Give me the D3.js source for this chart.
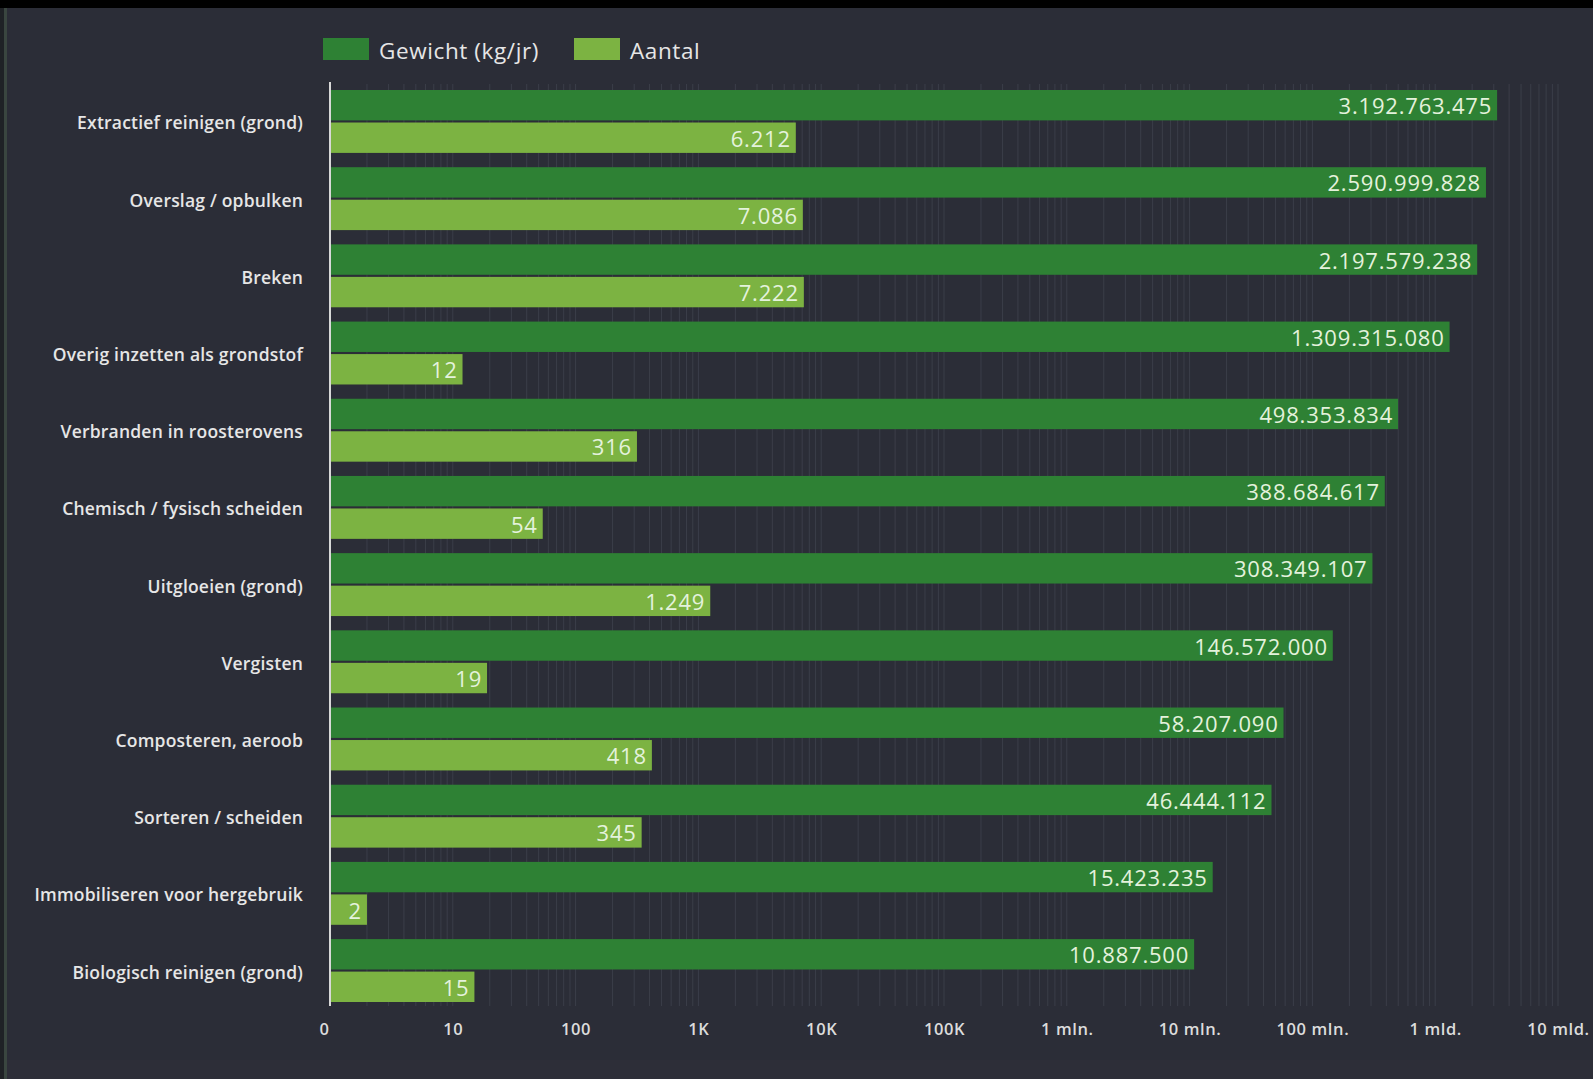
<!DOCTYPE html>
<html>
<head>
<meta charset="utf-8">
<script src="https://cdn.jsdelivr.net/npm/d3@7/dist/d3.min.js"></script>
<style>
  html, body { margin: 0; padding: 0; background: #000; }
  svg { display: block; }
</style>
</head>
<body>
<svg id="chart" width="1593" height="1079"></svg>
<script>
const categories = [
  "Extractief reinigen (grond)",
  "Overslag / opbulken",
  "Breken",
  "Overig inzetten als grondstof",
  "Verbranden in roosterovens",
  "Chemisch / fysisch scheiden",
  "Uitgloeien (grond)",
  "Vergisten",
  "Composteren, aeroob",
  "Sorteren / scheiden",
  "Immobiliseren voor hergebruik",
  "Biologisch reinigen (grond)"
];
const gewicht = [3192763475, 2590999828, 2197579238, 1309315080, 498353834, 388684617, 308349107, 146572000, 58207090, 46444112, 15423235, 10887500];
const aantal = [6212, 7086, 7222, 12, 316, 54, 1249, 19, 418, 345, 2, 15];
const seriesNames = ["Gewicht (kg/jr)", "Aantal"];
const tickValues = [1, 10, 100, 1e3, 1e4, 1e5, 1e6, 1e7, 1e8, 1e9, 1e10];
const tickLabels = ["0", "10", "100", "1K", "10K", "100K", "1 mln.", "10 mln.", "100 mln.", "1 mld.", "10 mld."];

const colors = ["#2e8134", "#7cb342"];
const W = 1593, H = 1079;
const svg = d3.select("#chart");

// background
svg.append("rect").attr("width", W).attr("height", H).attr("fill", "#2b2d37");
svg.append("rect").attr("x", 0).attr("y", 0).attr("width", W).attr("height", 8).attr("fill", "#000");
svg.append("rect").attr("x", 0).attr("y", 8).attr("width", 4).attr("height", H).attr("fill", "#1f2226");
svg.append("rect").attr("x", 4).attr("y", 8).attr("width", 3).attr("height", H).attr("fill", "#3a4640");
svg.append("rect").attr("x", 7).attr("y", 1060).attr("width", W).attr("height", 19).attr("fill", "#2d2e38");

const nl = d3.formatLocale({decimal: ",", thousands: ".", grouping: [3], currency: ["€", ""]});
const fmt = nl.format(",d");

const x = d3.scaleLog().domain([1, 1e10]).range([330, 1558]);
const y = d3.scaleBand().domain(categories).range([90, 1002]).paddingInner(0.185).paddingOuter(0);
const ySub = d3.scaleBand().domain(seriesNames).range([0, y.bandwidth()]).paddingInner(0.065);

// gridlines (log minor)
const gridVals = [];
for (let k = 0; k < 10; k++) for (let m = 1; m <= 9; m++) gridVals.push(m * Math.pow(10, k));
gridVals.push(1e10);
svg.append("g").selectAll("line").data(gridVals.filter(v => v > 1)).join("line")
  .attr("x1", d => x(d)).attr("x2", d => x(d))
  .attr("y1", 84).attr("y2", 1006)
  .attr("stroke", "#3b3e49").attr("stroke-width", 1);

const rows = categories.map((c, i) => ({cat: c, vals: [gewicht[i], aantal[i]]}));

const g = svg.append("g");
rows.forEach(r => {
  r.vals.forEach((v, j) => {
    const yy = y(r.cat) + ySub(seriesNames[j]);
    const h = ySub.bandwidth();
    g.append("rect")
      .attr("x", x(1)).attr("y", yy)
      .attr("width", x(v) - x(1)).attr("height", h)
      .attr("fill", colors[j]);
    g.append("text")
      .attr("x", x(v) - 5).attr("y", yy + h / 2)
      .attr("text-anchor", "end").attr("dominant-baseline", "central")
      .attr("font-family", "'Open Sans', sans-serif").attr("font-size", 22)
      .attr("letter-spacing", 0.8)
      .attr("fill", "#e4f2dc")
      .text(fmt(v));
  });
});

// category labels
svg.append("g").selectAll("text").data(categories).join("text")
  .attr("x", 303).attr("y", d => y(d) + y.bandwidth() / 2 + 1)
  .attr("text-anchor", "end").attr("dominant-baseline", "central")
  .attr("font-family", "'Open Sans', sans-serif").attr("font-size", 17.5).attr("font-weight", 600)
  .attr("letter-spacing", 0.2)
  .attr("fill", "#e6e6e6")
  .text(d => d);

// axis line
svg.append("line").attr("x1", 330).attr("x2", 330).attr("y1", 82).attr("y2", 1006)
  .attr("stroke", "#d8d8d8").attr("stroke-width", 2);

// x axis
const axis = d3.axisBottom(x).tickValues(tickValues).tickFormat((d, i) => tickLabels[i]).tickSize(0).tickPadding(0);
const ax = svg.append("g").attr("transform", "translate(0,1023)").call(axis);
ax.select(".domain").remove();
ax.selectAll("text")
  .attr("font-family", "'Open Sans', sans-serif").attr("font-size", 16.5).attr("font-weight", 600)
  .attr("letter-spacing", 0.6)
  .attr("fill", "#dcdcdc");
ax.selectAll(".tick").filter(d => d === 1).select("text").attr("dx", -6);

// legend
const leg = svg.append("g");
const legX = [323, 574];
seriesNames.forEach((s, i) => {
  leg.append("rect").attr("x", legX[i]).attr("y", 38).attr("width", 46).attr("height", 22).attr("fill", colors[i]);
  leg.append("text").attr("x", legX[i] + 56).attr("y", 50)
    .attr("dominant-baseline", "central")
    .attr("font-family", "'Open Sans', sans-serif").attr("font-size", 22.5)
    .attr("letter-spacing", 0.6)
    .attr("fill", "#e6e6e6").text(s);
});
</script>
</body>
</html>
